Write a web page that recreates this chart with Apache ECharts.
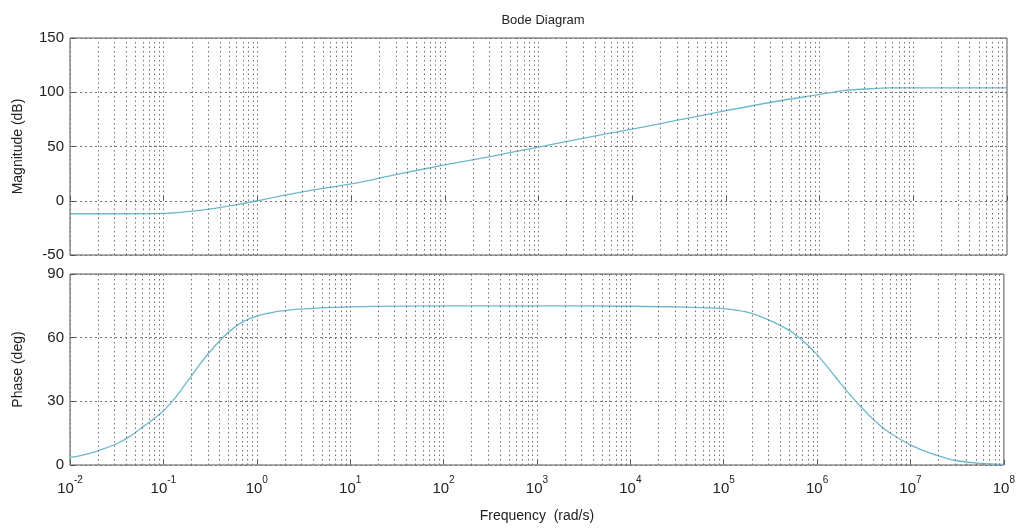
<!DOCTYPE html>
<html>
<head>
<meta charset="utf-8">
<script src="https://cdn.jsdelivr.net/npm/echarts@6/dist/echarts.min.js"></script>
<style>
  html, body { margin: 0; padding: 0; background: #fff; }
  #chart { width: 1018px; height: 529px; }
</style>
</head>
<body>
<div id="chart"></div>
<script>
// Frequency response samples (rad/s)
const magFreq = [0.01, 0.0316, 0.1, 0.178, 0.316, 0.562, 1, 1.78, 3.16, 5.62, 10, 31.6, 100, 316, 1e3, 3.16e3, 1e4, 3.16e4, 1e5, 3.16e5, 1e6, 1.78e6, 3.16e6, 5.62e6, 1e7, 1e8];
const magDb   = [-12, -12, -11.7, -10, -7.5, -4, 0, 4.5, 8.5, 12, 15.5, 24.5, 33, 41, 49.5, 58, 66, 74.5, 83, 91, 98, 101.5, 103, 104, 104, 104];

const phaseFreq = [
  0.01, 0.0133, 0.0178, 0.0237, 0.0316, 0.0422, 0.0562, 0.075, 0.1, 0.133, 0.178, 0.237, 0.316, 0.422, 0.562, 0.75,
  1, 1.33, 1.78, 3.16, 10, 100, 1e3, 1e4, 3.16e4,
  1e5, 1.33e5, 1.78e5, 2.37e5, 3.16e5, 4.22e5, 5.62e5, 7.5e5, 1e6, 1.33e6, 1.78e6, 2.37e6, 3.16e6, 4.22e6, 5.62e6, 7.5e6,
  1e7, 1.33e7, 1.78e7, 2.37e7, 3.16e7, 5.62e7, 1e8
];
const phaseDeg = [
  3.5, 4.5, 6, 7.8, 10, 13, 17, 21, 25.5, 31.5, 39, 46.5, 53.5, 59.5, 64.5, 68,
  70.2, 71.5, 72.5, 73.6, 74.5, 75, 75, 74.8, 74.5,
  73.7, 73, 72, 70.3, 68, 65.3, 62, 57.5, 52, 45.5, 38.5, 32, 26, 20.5, 16, 12.5,
  9.5, 7, 5, 3.3, 2, 0.8, 0.3
];

// Axis ranges and ticks (x ticks every decade)
const freqMin = 0.01, freqMax = 1e8, decadeStep = 1;
const magTicks = { min: -50, max: 150, step: 50 };
const phaseTicks = { min: 0, max: 90, step: 30 };

// Log grid: every decade plus 2..9 times each decade
const gridFreqs = [];
for (let e = -2; e < 8; e++) {
  for (let k = 1; k <= 9; k++) gridFreqs.push(k * Math.pow(10, e));
}

const lineColor = '#6cb8cc';
const gridColor = '#737373';
const textColor = '#222';
const font = 'Liberation Sans, Arial, sans-serif';

function pairs(xs, ys) { return xs.map((x, i) => [x, ys[i]]); }

function freqGridLines() {
  return {
    silent: true,
    symbol: 'none',
    label: { show: false },
    lineStyle: { color: gridColor, type: [1.5, 3], width: 1 },
    data: gridFreqs.map(f => ({ xAxis: f }))
  };
}

function xAxisFor(gridIndex, showLabels) {
  return {
    type: 'log',
    logBase: 10,
    gridIndex,
    min: freqMin,
    max: freqMax,
    interval: decadeStep,
    axisLine: { show: false },
    axisTick: { show: true, inside: true, length: 5, lineStyle: { color: '#555' } },
    splitLine: { show: false },
    axisLabel: {
      show: showLabels,
      margin: 10,
      interval: 0,
      fontFamily: font,
      color: textColor,
      formatter: v => '{b|10}{s|' + Math.round(Math.log10(v)) + '}',
      rich: {
        b: { fontSize: 15, fontFamily: font, color: textColor, verticalAlign: 'bottom' },
        s: { fontSize: 10, fontFamily: font, color: textColor, verticalAlign: 'bottom', padding: [0, 0, 11, 0] }
      }
    },
    name: showLabels ? 'Frequency  (rad/s)' : '',
    nameLocation: 'middle',
    nameGap: 44,
    nameTextStyle: { fontFamily: font, fontSize: 14, color: textColor }
  };
}

function yAxisFor(gridIndex, ticks, name) {
  return {
    type: 'value',
    gridIndex,
    min: ticks.min,
    max: ticks.max,
    interval: ticks.step,
    axisLine: { show: false },
    axisTick: { show: true, inside: true, length: 5, lineStyle: { color: '#555' } },
    splitLine: { show: true, lineStyle: { color: gridColor, type: [2, 3], width: 1 } },
    axisLabel: { fontFamily: font, fontSize: 15, color: textColor, margin: 6 },
    name,
    nameLocation: 'middle',
    nameGap: 45,
    nameTextStyle: { fontFamily: font, fontSize: 14, color: textColor }
  };
}

const chart = echarts.init(document.getElementById('chart'), null, { renderer: 'canvas' });

chart.setOption({
  animation: false,
  backgroundColor: '#fff',
  title: {
    text: 'Bode Diagram',
    left: 538,
    textAlign: 'center',
    top: 9,
    textStyle: { fontFamily: font, fontSize: 13, fontWeight: 'normal', color: textColor }
  },
  grid: [
    { left: 70, right: 11, top: 38, height: 217, show: true, borderColor: '#555', borderWidth: 1, backgroundColor: 'transparent' },
    { left: 70, right: 11, top: 274, height: 191, show: true, borderColor: '#555', borderWidth: 1, backgroundColor: 'transparent' }
  ],
  xAxis: [xAxisFor(0, false), xAxisFor(1, true)],
  yAxis: [
    yAxisFor(0, magTicks, 'Magnitude (dB)'),
    yAxisFor(1, phaseTicks, 'Phase (deg)')
  ],
  series: [
    {
      type: 'line',
      xAxisIndex: 0,
      yAxisIndex: 0,
      data: pairs(magFreq, magDb),
      smooth: 0.3,
      showSymbol: false,
      lineStyle: { color: lineColor, width: 1.3 },
      markLine: freqGridLines()
    },
    {
      type: 'line',
      xAxisIndex: 1,
      yAxisIndex: 1,
      data: pairs(phaseFreq, phaseDeg),
      smooth: 0.3,
      showSymbol: false,
      lineStyle: { color: lineColor, width: 1.3 },
      markLine: freqGridLines()
    }
  ]
});
</script>
</body>
</html>
